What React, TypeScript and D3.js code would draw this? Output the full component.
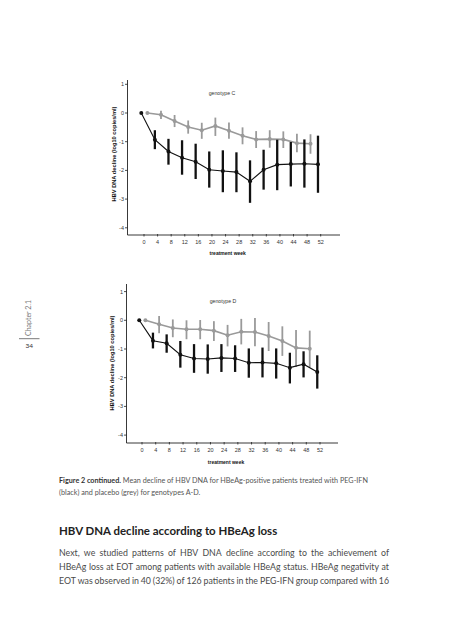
import React from "react";
import * as d3 from "d3";

// ---------- data ----------
const weeks = [0, 4, 8, 12, 16, 20, 24, 28, 32, 36, 40, 44, 48, 52];
const yTicks = [1, 0, -1, -2, -3, -4];

// genotype C
const pegC = [0, -0.93, -1.34, -1.56, -1.7, -1.98, -2.02, -2.06, -2.38, -1.98, -1.8, -1.78, -1.77, -1.79];
const pegCHi = [0, -0.6, -0.9, -0.95, -1.07, -1.34, -1.3, -1.37, -1.65, -1.28, -0.93, -1.01, -0.92, -0.79];
const pegCLo = [0, -1.26, -1.8, -2.15, -2.3, -2.6, -2.76, -2.76, -3.13, -2.67, -2.69, -2.56, -2.6, -2.78];
const plaC = [0, -0.06, -0.28, -0.49, -0.6, -0.45, -0.62, -0.79, -0.92, -0.91, -0.92, -1.05, -1.07];
const plaCHi = [0, 0.08, -0.07, -0.26, -0.34, -0.16, -0.33, -0.5, -0.63, -0.6, -0.64, -0.72, -0.74];
const plaCLo = [0, -0.21, -0.49, -0.72, -0.9, -0.8, -0.9, -1.09, -1.22, -1.21, -1.22, -1.37, -1.42];

// genotype D
const pegD = [0, -0.71, -0.8, -1.2, -1.33, -1.35, -1.31, -1.33, -1.48, -1.47, -1.5, -1.65, -1.53, -1.8];
const pegDHi = [0, -0.43, -0.49, -0.72, -0.83, -0.84, -0.83, -0.87, -0.98, -0.95, -0.98, -1.13, -1.08, -1.22];
const pegDLo = [0, -0.98, -1.13, -1.65, -1.83, -1.86, -1.8, -1.8, -2.0, -1.99, -2.03, -2.2, -1.99, -2.38];
const plaD = [0, -0.14, -0.27, -0.31, -0.31, -0.36, -0.52, -0.4, -0.41, -0.55, -0.72, -0.96, -0.99];
const plaDHi = [0, 0.15, 0.03, 0.0, 0.01, -0.03, -0.16, 0.05, 0.08, -0.06, -0.21, -0.34, -0.36];
const plaDLo = [0, -0.45, -0.59, -0.66, -0.66, -0.72, -0.91, -0.84, -0.9, -1.07, -1.24, -1.63, -1.64];

const yLabel = "HBV DNA decline (log10 copies/ml)";
const xLabel = "treatment week";

const captionBold = "Figure 2 continued.";
const captionLine1 = " Mean decline of HBV DNA for HBeAg-positive patients treated with PEG-IFN";
const captionLine2 = "(black) and placebo (grey) for genotypes A-D.";
const heading = "HBV DNA decline according to HBeAg loss";
const bodyLines = [
  "Next, we studied patterns of HBV DNA decline according to the achievement of",
  "HBeAg loss at EOT among patients with available HBeAg status. HBeAg negativity at",
  "EOT was observed in 40 (32%) of 126 patients in the PEG-IFN group compared with 16",
];

// ---------- helpers ----------
const CHART_FONT = "'Liberation Sans', Arial, sans-serif";
const TEXT_FONT = "Lato, 'Open Sans', sans-serif";

let _ctx: CanvasRenderingContext2D | null = null;
function measure(text: string, font: string): number {
  if (!_ctx) _ctx = document.createElement("canvas").getContext("2d");
  _ctx!.font = font;
  return _ctx!.measureText(text).width;
}

type Series = { mean: number[]; hi: number[]; lo: number[] };

type PanelProps = {
  title: string;
  peg: Series;
  pla: Series;
  xRange: [number, number];
  yRange: [number, number];
  axisX: number;
  axisTop: number;
  axisY: number;
  axisRight: number;
  titlePos: [number, number];
  yLabelPos: [number, number];
  xLabelPos: [number, number];
};

function Panel(p: PanelProps) {
  const x = d3.scaleLinear().domain([0, 52]).range(p.xRange);
  const y = d3.scaleLinear().domain([1, -4]).range(p.yRange);
  const pegOff = -0.8;
  const plaOff = 1.0;
  const line = (off: number) =>
    d3
      .line<number>()
      .x((_, i) => x(weeks[i] + off))
      .y((d) => y(d));
  const grey = "#9a9a9a";
  return (
    <g>
      {/* axes */}
      <line x1={p.axisX} x2={p.axisX} y1={p.axisTop} y2={p.axisY} stroke="#222" strokeWidth={0.9} />
      <line x1={p.axisX} x2={p.axisRight} y1={p.axisY} y2={p.axisY} stroke="#222" strokeWidth={0.9} />
      {yTicks.map((t) => (
        <g key={"y" + t}>
          <line x1={p.axisX - 2.5} x2={p.axisX} y1={y(t)} y2={y(t)} stroke="#222" strokeWidth={0.8} />
          <text
            x={p.axisX - 3.5}
            y={y(t)}
            dy="0.35em"
            textAnchor="end"
            fontSize={5.5}
            fontFamily={CHART_FONT}
            fill="#333"
          >
            {String(t)}
          </text>
        </g>
      ))}
      {weeks.map((w) => (
        <g key={"x" + w}>
          <line x1={x(w)} x2={x(w)} y1={p.axisY - 1} y2={p.axisY + 1.5} stroke="#222" strokeWidth={0.8} />
          <text
            x={x(w)}
            y={p.axisY + 8.5}
            textAnchor="middle"
            fontSize={5.5}
            fontFamily={CHART_FONT}
            fill="#333"
          >
            {String(w)}
          </text>
        </g>
      ))}
      <text
        transform={`translate(${p.yLabelPos[0]},${p.yLabelPos[1]}) rotate(-90)`}
        textAnchor="middle"
        dy="0.35em"
        fontSize={5.7}
        fontWeight="bold"
        fontFamily={CHART_FONT}
        fill="#111"
      >
        {yLabel}
      </text>
      <text
        x={p.xLabelPos[0]}
        y={p.xLabelPos[1]}
        textAnchor="middle"
        fontSize={5}
        fontWeight="bold"
        fontFamily={CHART_FONT}
        fill="#111"
      >
        {xLabel}
      </text>
      <text
        x={p.titlePos[0]}
        y={p.titlePos[1]}
        textAnchor="middle"
        fontSize={5.2}
        fontFamily={CHART_FONT}
        fill="#333"
      >
        {p.title}
      </text>

      {/* placebo (grey) */}
      <path d={line(plaOff)(p.pla.mean) || ""} fill="none" stroke={grey} strokeWidth={1.6} />
      {p.pla.mean.map((m, i) =>
        i === 0 ? null : (
          <line
            key={"pe" + i}
            x1={x(weeks[i] + plaOff)}
            x2={x(weeks[i] + plaOff)}
            y1={y(p.pla.hi[i])}
            y2={y(p.pla.lo[i])}
            stroke={grey}
            strokeWidth={1.8}
          />
        )
      )}
      {p.pla.mean.map((m, i) => (
        <circle key={"pm" + i} cx={x(weeks[i] + plaOff)} cy={y(m)} r={2} fill={grey} />
      ))}

      {/* PEG-IFN (black) */}
      <path d={line(pegOff)(p.peg.mean) || ""} fill="none" stroke="#111" strokeWidth={1.1} />
      {p.peg.mean.map((m, i) =>
        i === 0 ? null : (
          <line
            key={"be" + i}
            x1={x(weeks[i] + pegOff)}
            x2={x(weeks[i] + pegOff)}
            y1={y(p.peg.hi[i])}
            y2={y(p.peg.lo[i])}
            stroke="#111"
            strokeWidth={2.3}
          />
        )
      )}
      {p.peg.mean.map((m, i) => (
        <circle key={"bm" + i} cx={x(weeks[i] + pegOff)} cy={y(m)} r={2} fill="#111" />
      ))}
    </g>
  );
}

function Justified({ text, x0, x1, y, font, size, fill }: any) {
  const words = text.split(" ");
  const f = `${size}px ${font}`;
  const widths = words.map((w: string) => measure(w, f));
  const total = widths.reduce((a: number, b: number) => a + b, 0);
  const gap = (x1 - x0 - total) / (words.length - 1);
  let cx = x0;
  return (
    <text y={y} fontSize={size} fontFamily={font} fill={fill}>
      {words.map((w: string, i: number) => {
        const pos = cx;
        cx += widths[i] + gap;
        return (
          <tspan key={i} x={pos}>
            {w}
          </tspan>
        );
      })}
    </text>
  );
}

export default function App() {
  // font sizes fitted to reference widths
  const capBase = 7;
  const capW =
    measure(captionBold, `bold ${capBase}px ${TEXT_FONT}`) + measure(captionLine1, `${capBase}px ${TEXT_FONT}`);
  const capSize = (capBase * 310) / capW;
  const boldW = measure(captionBold, `bold ${capSize}px ${TEXT_FONT}`);

  const headW = measure(heading, `bold 12px ${TEXT_FONT}`);
  const headSize = (12 * 219) / headW;

  const bodyW = measure(bodyLines[1], `10px ${TEXT_FONT}`);
  const bodySize = (10 * 326) / bodyW;

  return (
    <svg width={453} height={640} style={{ position: "absolute", left: 0, top: 0 }}>
      <rect width={453} height={640} fill="#fff" />
      <Panel
        title="genotype C"
        peg={{ mean: pegC, hi: pegCHi, lo: pegCLo }}
        pla={{ mean: plaC, hi: plaCHi, lo: plaCLo }}
        xRange={[144, 320.7]}
        yRange={[84.3, 227.8]}
        axisX={127.5}
        axisTop={80}
        axisY={235}
        axisRight={340}
        titlePos={[222, 94.5]}
        yLabelPos={[114, 154]}
        xLabelPos={[227.7, 255]}
      />
      <Panel
        title="genotype D"
        peg={{ mean: pegD, hi: pegDHi, lo: pegDLo }}
        pla={{ mean: plaD, hi: plaDHi, lo: plaDLo }}
        xRange={[142, 320]}
        yRange={[291.6, 435.1]}
        axisX={126.5}
        axisTop={284}
        axisY={443}
        axisRight={338}
        titlePos={[223, 302.5]}
        yLabelPos={[112, 363]}
        xLabelPos={[226, 464]}
      />

      {/* side marker */}
      <text
        transform="translate(30.5,318) rotate(-90)"
        textAnchor="middle"
        fontSize={7}
        fontFamily={TEXT_FONT}
        fill="#777"
      >
        Chapter 2.1
      </text>
      <line x1={19} x2={39.5} y1={338.7} y2={338.7} stroke="#555" strokeWidth={0.8} />
      <text x={29.3} y={347.8} textAnchor="middle" fontSize={6.5} fontFamily={TEXT_FONT} fill="#333">
        34
      </text>

      {/* caption */}
      <text y={483.3} fontSize={capSize} fontFamily={TEXT_FONT} fill="#555">
        <tspan x={59} fontWeight="bold" fill="#333">
          {captionBold}
        </tspan>
        <tspan x={59 + boldW}>{captionLine1}</tspan>
      </text>
      <text x={59} y={494.6} fontSize={capSize} fontFamily={TEXT_FONT} fill="#555">
        {captionLine2}
      </text>

      {/* heading */}
      <text x={59} y={535.3} fontSize={headSize} fontWeight="bold" fontFamily={TEXT_FONT} fill="#222">
        {heading}
      </text>

      {/* body */}
      {bodyLines.map((l, i) => (
        <Justified
          key={i}
          text={l}
          x0={59}
          x1={389}
          y={555.6 + i * 14}
          font={TEXT_FONT}
          size={bodySize}
          fill="#4a4a4a"
        />
      ))}
    </svg>
  );
}
